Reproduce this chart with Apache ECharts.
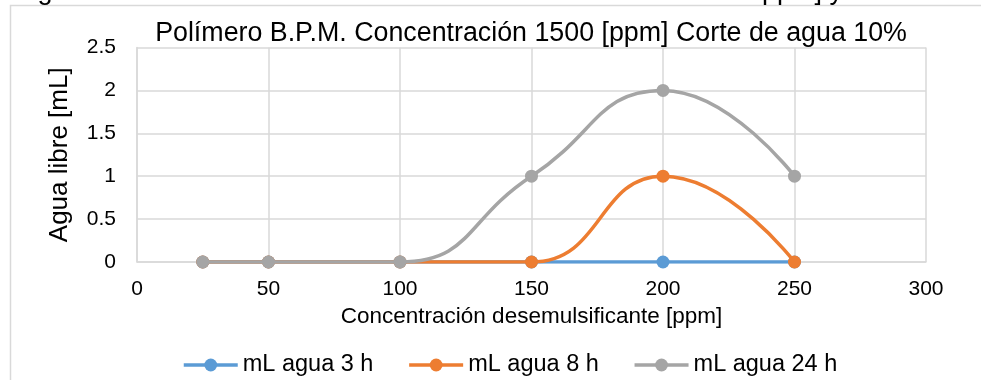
<!DOCTYPE html>
<html>
<head>
<meta charset="utf-8">
<script src="https://cdn.jsdelivr.net/npm/echarts@6/dist/echarts.min.js"></script>
<style>html,body{margin:0;padding:0;background:#fff;}#c{width:981px;height:380px;}</style>
</head>
<body>
<div id="c"></div>
<script>
const concentrations = [25, 50, 100, 150, 200, 250];
const agua3h = [0, 0, 0, 0, 0, 0];
const agua8h = [0, 0, 0, 0, 1, 0];
const agua24h = [0, 0, 0, 1, 2, 1];
const seriesNames = ['mL agua 3 h', 'mL agua 8 h', 'mL agua 24 h'];
const chartTitle = 'Polímero B.P.M. Concentración 1500 [ppm] Corte de agua 10%';
const xAxisName = 'Concentración desemulsificante [ppm]';
const yAxisName = 'Agua libre [mL]';
const captionLeft = 'Fig';
const captionRight = 'ppm] y';
const colors = ['#5B9BD5', '#ED7D31', '#A5A5A5'];

const font = 'Arial, "Liberation Sans", sans-serif';
const chart = echarts.init(document.getElementById('c'), null, {renderer: 'canvas'});
const pairs = arr => concentrations.map((x, i) => [x, arr[i]]);
const mk = (name, data, color, z) => ({
  name, type: 'line', data: pairs(data), smooth: 0.5,
  symbol: 'circle', symbolSize: 13, z,
  lineStyle: {color, width: 3.5}, itemStyle: {color},
  emphasis: {disabled: true}
});
chart.setOption({
  animation: false,
  color: colors,
  graphic: [
    {type: 'rect', shape: {x: 10.5, y: 5.5, width: 1000, height: 400}, style: {fill: 'none', stroke: '#D9D9D9', lineWidth: 1.5}, silent: true, z: 0},
    {type: 'text', x: 15, y: 5, style: {text: captionLeft, font: '27px ' + font, fill: '#000', textAlign: 'left', textVerticalAlign: 'bottom'}, silent: true},
    {type: 'text', x: 762, y: 5, style: {text: captionRight, font: '27px ' + font, fill: '#000', textAlign: 'left', textVerticalAlign: 'bottom'}, silent: true},
    {type: 'text', x: 531, y: 34, style: {text: chartTitle, font: '26.8px ' + font, fill: '#000', textAlign: 'center', textVerticalAlign: 'middle'}, silent: true}
  ],
  grid: {left: 137, right: 55, top: 47.5, bottom: 118, containLabel: false},
  xAxis: {
    type: 'value', min: 0, max: 300, interval: 50,
    name: xAxisName, nameLocation: 'middle', nameGap: 36,
    nameTextStyle: {fontFamily: font, fontSize: 22.5, color: '#000'},
    axisLine: {show: true, lineStyle: {color: '#D9D9D9', width: 1.5}},
    axisTick: {show: false},
    axisLabel: {fontFamily: font, fontSize: 21, color: '#000', margin: 17},
    splitLine: {show: true, lineStyle: {color: '#D9D9D9', width: 1.5}}
  },
  yAxis: {
    type: 'value', min: 0, max: 2.5, interval: 0.5,
    name: yAxisName, nameLocation: 'middle', nameGap: 64, nameRotate: 90,
    nameTextStyle: {fontFamily: font, fontSize: 26, color: '#000'},
    axisLine: {show: true, lineStyle: {color: '#D9D9D9', width: 1.5}},
    axisTick: {show: false},
    axisLabel: {fontFamily: font, fontSize: 21, color: '#000', margin: 21},
    splitLine: {show: true, lineStyle: {color: '#D9D9D9', width: 1.5}}
  },
  legend: {
    top: 348, left: 177, itemWidth: 54, itemHeight: 16, itemGap: 34,
    textStyle: {fontFamily: font, fontSize: 23.5, color: '#000'},
    lineStyle: {width: 3.5},
    data: seriesNames
  },
  series: [
    mk(seriesNames[0], agua3h, colors[0], 2),
    mk(seriesNames[1], agua8h, colors[1], 3),
    mk(seriesNames[2], agua24h, colors[2], 4)
  ]
});
</script>
</body>
</html>
